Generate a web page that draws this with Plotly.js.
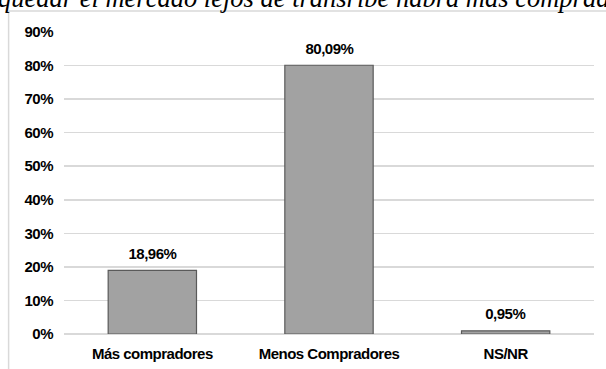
<!DOCTYPE html>
<html>
<head>
<meta charset="utf-8">
<script src="https://cdn.plot.ly/plotly-3.0.1.min.js"></script>
<style>
html,body{margin:0;padding:0;background:#fff;}
#chart{width:606px;height:369px;}
#chart .xtick text, #chart .ytick text {letter-spacing:-0.5px;}
</style>
</head>
<body>
<div id="chart"></div>
<script>
var categories = ["Más compradores", "Menos Compradores", "NS/NR"];
var values = [0.1896, 0.8009, 0.0095];
var valueLabels = ["18,96%", "80,09%", "0,95%"];
var tickVals = [0, 0.1, 0.2, 0.3, 0.4, 0.5, 0.6, 0.7, 0.8, 0.9];
var tickText = ["0%", "10%", "20%", "30%", "40%", "50%", "60%", "70%", "80%", "90%"];
var titleText = "quedar el mercado lejos de transribe habrá más comprad";

var W = 606, H = 369, L = 63.5, R = 11.5, T = 32, B = 35;
function px2y(py){ return (H - B - py) / (H - T - B); }
function px2x(px){ return (px - L) / (W - L - R); }

var boldFont = {family: "Liberation Sans, Arial, sans-serif", size: 15, color: "#000", weight: "bold"};

var trace = {
  type: "bar",
  x: categories,
  y: values,
  width: 0.5,
  marker: {color: "#a2a2a2", line: {color: "#5a5a5a", width: 1.2}},
  hoverinfo: "none"
};

var labelAnns = categories.map(function(c, i){
  return {text: valueLabels[i], x: c, y: values[i], xref: "x", yref: "y",
          xanchor: "center", yanchor: "middle", yshift: 17, showarrow: false,
          font: boldFont};
});

var layout = {
  width: W, height: H,
  margin: {l: L, r: R, t: T, b: B, pad: 0},
  paper_bgcolor: "#fff", plot_bgcolor: "#fff",
  showlegend: false,
  font: {family: "Liberation Sans, Arial, sans-serif", size: 15, color: "#000"},
  xaxis: {
    type: "category",
    showgrid: false, showline: false, zeroline: false,
    ticks: "", ticklabelstandoff: 9,
    tickfont: boldFont,
    fixedrange: true
  },
  yaxis: {
    range: [0, 0.9],
    tickvals: tickVals, ticktext: tickText,
    showgrid: true, gridcolor: "#d9d9d9", gridwidth: 1.5,
    zeroline: true, zerolinecolor: "#d9d9d9", zerolinewidth: 1.5,
    showline: false, ticks: "", ticklabelstandoff: 10,
    tickfont: boldFont,
    fixedrange: true
  },
  shapes: [
    {type: "line", xref: "paper", yref: "paper", x0: px2x(8), x1: px2x(8), y0: px2y(11), y1: px2y(380), line: {color: "#d9d9d9", width: 1.5}},
    {type: "line", xref: "paper", yref: "paper", x0: px2x(8), x1: px2x(620), y0: px2y(11), y1: px2y(11), line: {color: "#d9d9d9", width: 1.5}}
  ],
  annotations: [
    {text: titleText, xref: "paper", yref: "paper", x: px2x(-5), y: px2y(-2), xanchor: "left", yanchor: "middle",
     showarrow: false, font: {family: "Liberation Serif, Times New Roman, serif", size: 26.5, color: "#000", style: "italic"}}
  ].concat(labelAnns)
};

Plotly.newPlot("chart", [trace], layout, {staticPlot: true, displayModeBar: false}).then(function(){
  var ts = document.querySelectorAll("#chart .annotation-text");
  for (var i = 1; i < ts.length; i++) ts[i].style.letterSpacing = "-0.5px";
});
</script>
</body>
</html>
